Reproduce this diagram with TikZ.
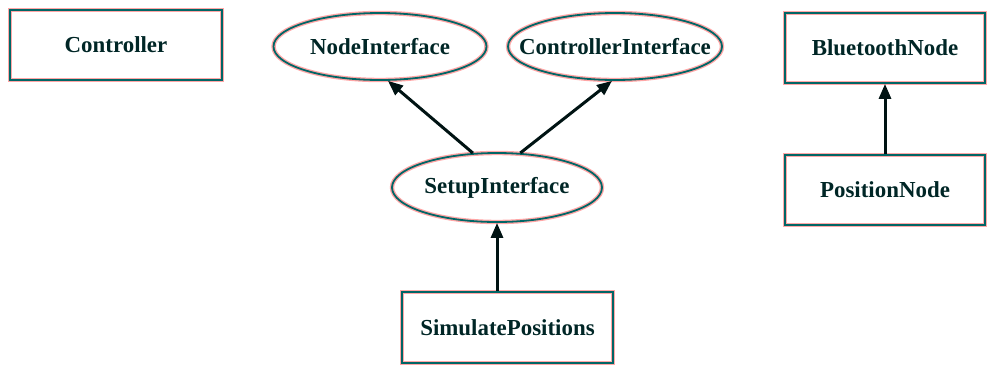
\documentclass[tikz,border=0pt]{standalone}
\usepackage{fontspec}
\setmainfont{Liberation Serif}
\usetikzlibrary{positioning,shapes,arrows.meta}
\newcommand{\ink}{teal!80!black}
\newcommand{\fringe}{red!35}
\newcommand{\ilabel}[1]{\makebox[0pt]{#1}}
\tikzset{
    outline/.style = { draw=\ink, line width=1.8bp, inner sep=0, text=black!70!teal,
        preaction={draw=\fringe, line width=4.4bp}, },
    cls/.style = { outline, rectangle, font=\fontsize{23}{26}\selectfont\bfseries, },
    iface/.style = { outline, ellipse, font=\fontsize{23}{26}\selectfont\bfseries, },
    inherit/.style = { -{Triangle[length=15bp,width=12bp]}, draw=black!85!teal, line width=3bp, },
}

\begin{document}
\begin{tikzpicture}[x=1bp,y=-1bp]

    \useasboundingbox (0,0) rectangle (987,365);

    \node [cls,minimum width=212bp,minimum height=70bp] (ctrl) at (116,45) {Controller};

    \node [iface,minimum width=213bp,minimum height=67bp] (nodeif) at (380,46.5) {\ilabel{NodeInterface}};
    \node [iface,minimum width=214bp,minimum height=67bp] (ctrlif) at (615,46.5) {\ilabel{ControllerInterface}};
    \node [iface,minimum width=210bp,minimum height=69bp] (setupif) at (497,187.5) {\ilabel{SetupInterface}};
    \node [cls,minimum width=211bp,minimum height=71bp] (simpos) at (507.5,327.5) {SimulatePositions};

    \node [cls,minimum width=200bp,minimum height=70bp] (btnode) at (885,48) {BluetoothNode};
    \node [cls,minimum width=200bp,minimum height=70bp] (posnode) at (885,190) {PositionNode};

    \draw [inherit] (setupif.125) -- (nodeif.-77);
    \draw [inherit] (setupif.56) -- (ctrlif.-95);
    \draw [inherit] (simpos.north -| setupif.south) -- (setupif.south);
    \draw [inherit] (posnode.north) -- (btnode.south);

\end{tikzpicture}
\end{document}
